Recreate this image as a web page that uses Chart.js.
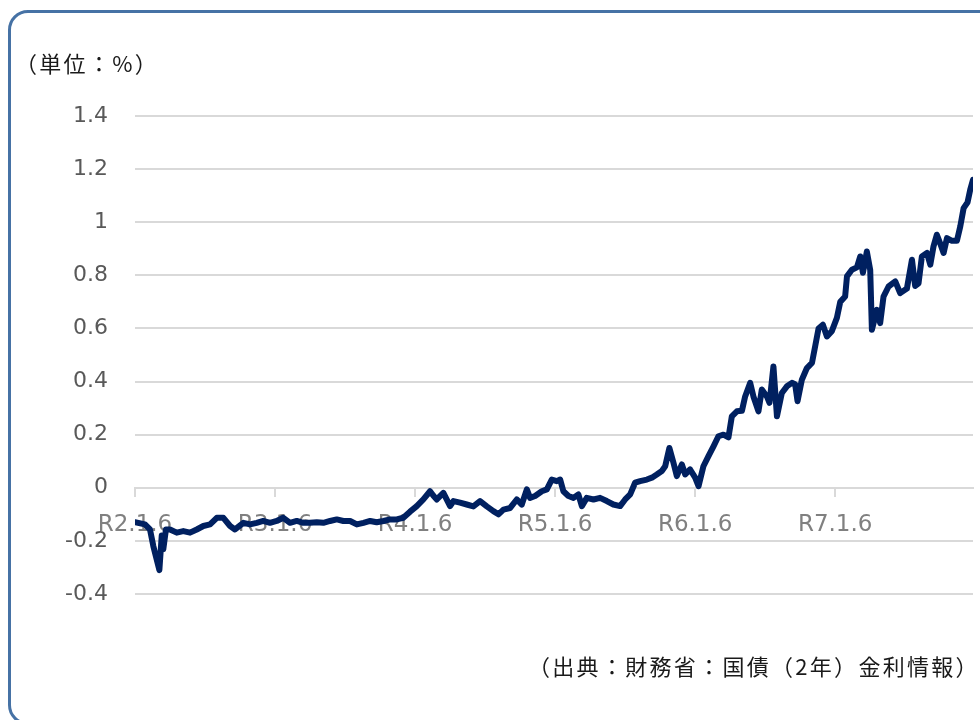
<!DOCTYPE html>
<html lang="ja">
<head>
<meta charset="utf-8">
<title>国債（2年）金利</title>
<script src="https://cdn.jsdelivr.net/npm/chart.js@4/dist/chart.umd.min.js"></script>
<style>
  html, body { margin: 0; padding: 0; background: #fff; }
  #wrap { position: relative; width: 980px; height: 720px; overflow: hidden; }
  #frame {
    position: absolute; left: 8px; top: 10px; width: 990px; height: 715px;
    box-sizing: border-box; border: 3px solid #4672a5; border-radius: 20px;
  }
  #plot { position: absolute; left: 0; top: 0; }
  .note {
    position: absolute; font-family: "Noto Sans CJK JP", sans-serif;
    font-size: 22px; letter-spacing: 2.3px; color: #1a1a1a;
    white-space: nowrap; line-height: 1;
  }
  #unit { left: 15px; top: 51px; }
  #source { left: 528px; top: 654px; }
</style>
</head>
<body>
<div id="wrap">
  <div id="frame"></div>
  <canvas id="plot" width="980" height="720"></canvas>
  <div class="note" id="unit">（単位：%）</div>
  <div class="note" id="source">（出典：財務省：国債（2年）金利情報）</div>
</div>
<script>
'use strict';

// x tick labels (one per year, starting R2.1.6)
const X_LABELS = ["R2.1.6", "R3.1.6", "R4.1.6", "R5.1.6", "R6.1.6", "R7.1.6"];

// years elapsed since R2.1.6
const years = [
    0.000, 0.071, 0.107, 0.131, 0.155, 0.174, 0.191, 0.202, 0.221, 0.250,
    0.298, 0.345, 0.393, 0.441, 0.488, 0.536, 0.584, 0.631, 0.679, 0.714,
    0.774, 0.821, 0.869, 0.916, 0.964, 1.012, 1.059, 1.107, 1.155, 1.202,
    1.250, 1.298, 1.345, 1.393, 1.441, 1.488, 1.536, 1.584, 1.631, 1.679,
    1.726, 1.774, 1.821, 1.869, 1.916, 1.964, 2.012, 2.059, 2.107, 2.131,
    2.155, 2.202, 2.250, 2.274, 2.321, 2.369, 2.416, 2.464, 2.512, 2.559,
    2.595, 2.631, 2.679, 2.726, 2.762, 2.798, 2.821, 2.857, 2.905, 2.941,
    2.976, 3.012, 3.036, 3.059, 3.095, 3.131, 3.166, 3.191, 3.226, 3.274,
    3.321, 3.369, 3.416, 3.464, 3.500, 3.536, 3.571, 3.607, 3.655, 3.691,
    3.726, 3.762, 3.786, 3.816, 3.845, 3.869, 3.905, 3.929, 3.964, 4.000,
    4.024, 4.059, 4.095, 4.131, 4.166, 4.202, 4.238, 4.262, 4.298, 4.334,
    4.357, 4.393, 4.416, 4.452, 4.476, 4.512, 4.531, 4.559, 4.584, 4.619,
    4.655, 4.691, 4.714, 4.731, 4.762, 4.798, 4.834, 4.857, 4.881, 4.912,
    4.941, 4.976, 5.012, 5.036, 5.071, 5.084, 5.119, 5.155, 5.179, 5.198,
    5.226, 5.250, 5.262, 5.298, 5.321, 5.345, 5.381, 5.429, 5.464, 5.512,
    5.548, 5.571, 5.595, 5.619, 5.655, 5.679, 5.702, 5.726, 5.750, 5.774,
    5.798, 5.834, 5.869, 5.893, 5.917, 5.945, 5.964, 5.984
];

// 2-year JGB yield (%)
const yields = [
    -0.130, -0.138, -0.157, -0.220, -0.270, -0.310, -0.180, -0.232, -0.157, -0.157,
    -0.169, -0.163, -0.169, -0.157, -0.144, -0.138, -0.113, -0.113, -0.144, -0.157,
    -0.132, -0.138, -0.132, -0.125, -0.132, -0.125, -0.113, -0.132, -0.125, -0.132,
    -0.132, -0.130, -0.132, -0.125, -0.119, -0.125, -0.125, -0.138, -0.132, -0.125,
    -0.130, -0.125, -0.119, -0.119, -0.113, -0.090, -0.069, -0.044, -0.013, -0.030,
    -0.044, -0.019, -0.069, -0.050, -0.056, -0.063, -0.070, -0.050, -0.070, -0.088,
    -0.100, -0.082, -0.076, -0.044, -0.063, -0.006, -0.038, -0.031, -0.013, -0.006,
    0.031, 0.025, 0.031, -0.013, -0.031, -0.038, -0.025, -0.069, -0.038, -0.044,
    -0.038, -0.050, -0.063, -0.069, -0.044, -0.025, 0.019, 0.025, 0.031, 0.038,
    0.050, 0.063, 0.081, 0.150, 0.094, 0.044, 0.088, 0.050, 0.069, 0.038,
    0.006, 0.081, 0.119, 0.156, 0.194, 0.200, 0.190, 0.269, 0.288, 0.290,
    0.344, 0.395, 0.344, 0.288, 0.370, 0.344, 0.320, 0.457, 0.269, 0.357,
    0.382, 0.395, 0.390, 0.326, 0.407, 0.451, 0.470, 0.533, 0.600, 0.614,
    0.570, 0.590, 0.640, 0.700, 0.720, 0.796, 0.821, 0.830, 0.871, 0.810,
    0.890, 0.820, 0.595, 0.670, 0.620, 0.720, 0.758, 0.777, 0.733, 0.750,
    0.859, 0.760, 0.770, 0.871, 0.884, 0.840, 0.909, 0.953, 0.920, 0.884,
    0.940, 0.930, 0.930, 0.984, 1.053, 1.075, 1.122, 1.160
];

const points = [];
for (let i = 0; i < years.length; i++) {
    points.push({ x: years[i], y: yields[i] });
}

const GRID = '#d9d9d9';

const config = {
    type: 'line',
    data: {
        datasets: [{
            data: points,
            borderColor: '#002060',
            borderWidth: 6,
            pointRadius: 0,
            tension: 0,
            borderJoinStyle: 'round',
            borderCapStyle: 'round'
        }]
    },
    options: {
        responsive: false,
        animation: false,
        layout: {
            padding: { left: 0, right: 7, top: 116, bottom: 126 }
        },
        plugins: {
            legend: { display: false },
            tooltip: { enabled: false }
        },
        scales: {
            x: {
                type: 'linear',
                position: { y: 0 },
                min: 0,
                max: years[years.length - 1],
                grid: {
                    drawOnChartArea: false,
                    drawTicks: true,
                    tickLength: 8,
                    color: GRID,
                    lineWidth: 2
                },
                border: { display: true, color: GRID, width: 2 },
                ticks: {
                    stepSize: 1,
                    includeBounds: false,
                    autoSkip: false,
                    maxRotation: 0,
                    padding: 15,
                    color: '#808080',
                    font: { family: 'DejaVu Sans', size: 23 },
                    callback: v => (Number.isInteger(v) ? X_LABELS[v] : '')
                }
            },
            y: {
                min: -0.4,
                max: 1.4,
                afterFit: scale => { scale.width = 135; },
                grid: {
                    drawTicks: false,
                    color: GRID,
                    lineWidth: 2
                },
                border: { display: false },
                ticks: {
                    stepSize: 0.2,
                    padding: 27,
                    color: '#595959',
                    font: { family: 'DejaVu Sans', size: 22 },
                    callback: v => String(Math.round(v * 10) / 10)
                }
            }
        }
    }
};

new Chart(document.getElementById('plot'), config);
</script>
</body>
</html>
